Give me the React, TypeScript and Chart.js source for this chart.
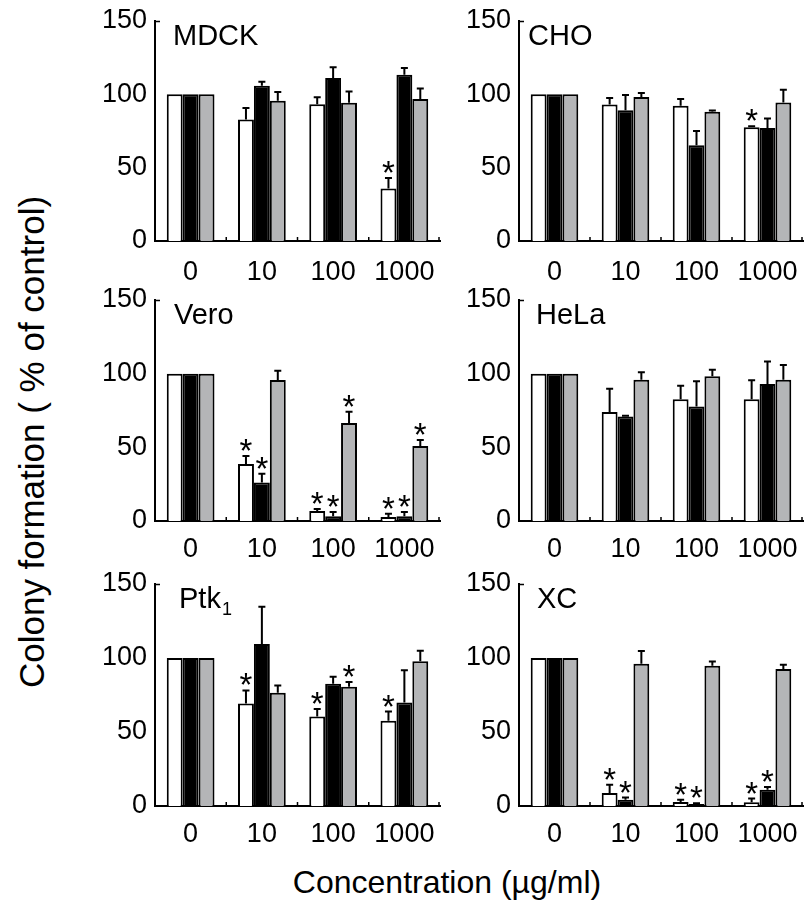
import React, { useEffect, useRef } from "react";
import { Chart, registerables } from "chart.js";

Chart.register(...registerables);

const FONT = "'Liberation Sans', Arial, Helvetica, sans-serif";

// ---- data ----
const categories = ["0", "10", "100", "1000"];
const yTickValues = [0, 50, 100, 150];
const seriesNames = ["white", "black", "gray"];
const seriesFill = ["#ffffff", "#000000", "#b4b5b7"];

// MDCK
const mdckWhite = [100, 82.8, 93.2, 35.8];
const mdckWhiteErr = [0, 7.9, 4.8, 7.1];
const mdckWhiteSig = [false, false, false, true];
const mdckBlack = [100, 105.9, 111.1, 113.4];
const mdckBlackErr = [0, 2.7, 7.3, 4.5];
const mdckBlackSig = [false, false, false, false];
const mdckGray = [100, 95.7, 94.3, 96.8];
const mdckGrayErr = [0, 5.9, 7.7, 7.1];
const mdckGraySig = [false, false, false, false];

// CHO
const choWhite = [100, 93.0, 92.3, 77.5];
const choWhiteErr = [0, 4.5, 4.5, 0.7];
const choWhiteSig = [false, false, false, true];
const choBlack = [100, 89.1, 65.2, 77.0];
const choBlackErr = [0, 10.4, 9.8, 6.6];
const choBlackSig = [false, false, false, false];
const choGray = [100, 98.2, 88.2, 94.5];
const choGrayErr = [0, 2.7, 0.7, 8.7];
const choGraySig = [false, false, false, false];

// Vero
const veroWhite = [100, 38.7, 6.8, 2.7];
const veroWhiteErr = [0, 5.4, 1.3, 2.3];
const veroWhiteSig = [false, true, true, true];
const veroBlack = [100, 26.2, 3.2, 3.2];
const veroBlackErr = [0, 5.9, 2.9, 2.9];
const veroBlackSig = [false, true, true, true];
const veroGray = [100, 95.7, 66.5, 50.9];
const veroGrayErr = [0, 6.3, 7.7, 4.0];
const veroGraySig = [false, false, true, true];

// HeLa
const helaWhite = [100, 73.9, 82.7, 82.7];
const helaWhiteErr = [0, 15.9, 9.1, 12.8];
const helaWhiteSig = [false, false, false, false];
const helaBlack = [100, 70.9, 77.7, 93.0];
const helaBlackErr = [0, 0.5, 17.1, 15.2];
const helaBlackSig = [false, false, false, false];
const helaGray = [100, 95.9, 98.2, 95.9];
const helaGrayErr = [0, 5.0, 4.5, 10.0];
const helaGraySig = [false, false, false, false];

// Ptk1
const ptkWhite = [100, 69.2, 60.5, 57.6];
const ptkWhiteErr = [0, 8.9, 5.1, 6.2];
const ptkWhiteSig = [false, true, true, true];
const ptkBlack = [100, 109.4, 82.6, 69.9];
const ptkBlackErr = [0, 25.2, 4.7, 21.8];
const ptkBlackSig = [false, false, false, false];
const ptkGray = [100, 76.6, 80.6, 97.8];
const ptkGrayErr = [0, 4.9, 3.1, 7.1];
const ptkGraySig = [false, false, true, false];

// XC
const xcWhite = [100, 8.8, 2.7, 2.5];
const xcWhiteErr = [0, 5.5, 1.6, 2.5];
const xcWhiteSig = [false, true, true, true];
const xcBlack = [100, 4.3, 1.4, 10.9];
const xcBlackErr = [0, 1.4, 0.4, 2.0];
const xcBlackSig = [false, true, true, true];
const xcGray = [100, 96.1, 94.8, 92.5];
const xcGrayErr = [0, 8.7, 2.9, 3.0];
const xcGraySig = [false, false, false, false];

const yAxisTitle = "Colony formation ( % of control)";
const xAxisTitle = "Concentration (\u00b5g/ml)";

type PanelProps = {
  name: string;
  sub?: string;
  values: number[][];
  errors: number[][];
  sig: boolean[][];
  left: number;
  top: number;
  width: number;
  height: number;
  yAxisWidth: number;
  padRight: number;
  titleDx: number;
  xPad: number;
};

function Panel(p: PanelProps) {
  const ref = useRef<HTMLCanvasElement | null>(null);
  useEffect(() => {
    const canvas = ref.current;
    if (!canvas) return;

    const extras = {
      id: "extras",
      afterDatasetsDraw(chart: any) {
        const ctx = chart.ctx;
        const ys = chart.scales.y;
        const xs = chart.scales.x;
        const area = chart.chartArea;
        ctx.save();
        // error bars
        ctx.strokeStyle = "#000";
        ctx.lineWidth = 2;
        p.values.forEach((vals, i) => {
          const meta = chart.getDatasetMeta(i);
          meta.data.forEach((bar: any, j: number) => {
            const e = p.errors[i][j];
            if (!e) return;
            const y0 = ys.getPixelForValue(vals[j]);
            const y1 = ys.getPixelForValue(vals[j] + e);
            ctx.beginPath();
            ctx.moveTo(bar.x, y0);
            ctx.lineTo(bar.x, y1);
            ctx.moveTo(bar.x - 3.5, y1);
            ctx.lineTo(bar.x + 3.5, y1);
            ctx.stroke();
          });
        });
        // asterisks
        ctx.fillStyle = "#000";
        ctx.font = `33px ${FONT}`;
        ctx.textAlign = "center";
        ctx.textBaseline = "alphabetic";
        p.values.forEach((vals, i) => {
          const meta = chart.getDatasetMeta(i);
          meta.data.forEach((bar: any, j: number) => {
            if (!p.sig[i][j]) return;
            const yTop = ys.getPixelForValue(vals[j] + p.errors[i][j]);
            ctx.fillText("*", bar.x, yTop + 6);
          });
        });
        // small inward ticks
        ctx.lineWidth = 1.5;
        ctx.beginPath();
        ctx.moveTo(area.left, ys.getPixelForValue(150) + 0.5);
        ctx.lineTo(area.left + 5, ys.getPixelForValue(150) + 0.5);
        const n = categories.length;
        for (let k = 0; k < n; k++) {
          let bx;
          if (k < n - 1) bx = (xs.getPixelForTick(k) + xs.getPixelForTick(k + 1)) / 2;
          else bx = area.right - 1;
          ctx.moveTo(bx, area.bottom);
          ctx.lineTo(bx, area.bottom - 4);
        }
        ctx.stroke();
        // panel title
        ctx.textAlign = "left";
        ctx.font = `29px ${FONT}`;
        const tx = area.left + p.titleDx;
        const ty = area.top + 24;
        ctx.fillText(p.name, tx, ty);
        if (p.sub) {
          const w = ctx.measureText(p.name).width;
          ctx.font = `18px ${FONT}`;
          ctx.fillText(p.sub, tx + w + 1, ty + 7);
        }
        ctx.restore();
      },
    };

    const chart = new Chart(canvas, {
      type: "bar",
      data: {
        labels: categories,
        datasets: p.values.map((vals, i) => ({
          label: seriesNames[i],
          data: vals,
          backgroundColor: seriesFill[i],
          borderColor: "#000000",
          borderWidth: 2,
          borderSkipped: "bottom",
        })),
      },
      options: {
        animation: false,
        responsive: false,
        maintainAspectRatio: false,
        devicePixelRatio: 1,
        events: [],
        layout: { padding: { top: 18, right: p.padRight, left: 0, bottom: 0 } },
        datasets: { bar: { categoryPercentage: 0.67, barPercentage: 1.0 } },
        plugins: {
          legend: { display: false },
          tooltip: { enabled: false },
          title: { display: false },
        },
        scales: {
          x: {
            grid: { display: false, drawTicks: false },
            border: { display: true, color: "#000", width: 2 },
            ticks: {
              color: "#000",
              font: { family: FONT, size: 27 },
              padding: p.xPad,
              maxRotation: 0,
              autoSkip: false,
            },
            afterFit: (s: any) => {
              s.height = 50;
              s.paddingLeft = 0;
              s.paddingRight = 0;
            },
          },
          y: {
            min: 0,
            max: 150,
            afterBuildTicks: (s: any) => {
              s.ticks = yTickValues.map((v) => ({ value: v }));
            },
            grid: { display: false, drawTicks: false },
            border: { display: true, color: "#000", width: 2 },
            ticks: {
              color: "#000",
              font: { family: FONT, size: 27 },
              padding: 8,
            },
            afterFit: (s: any) => {
              s.width = p.yAxisWidth;
              s.paddingTop = 0;
              s.paddingBottom = 0;
            },
          },
        },
      },
      plugins: [extras],
    } as any);
    return () => chart.destroy();
  }, []);
  return (
    <canvas
      ref={ref}
      width={p.width}
      height={p.height}
      style={{
        position: "absolute",
        left: p.left,
        top: p.top,
        width: p.width,
        height: p.height,
      }}
    />
  );
}

const LEFT = { left: 90, width: 360, yAxisWidth: 65, padRight: 10 };
const RIGHT = { left: 455, width: 351, yAxisWidth: 64, padRight: 3 };
const ROWS = [
  { top: 3, height: 288, xPad: 15 },
  { top: 282, height: 289, xPad: 12 },
  { top: 566, height: 290, xPad: 12 },
];

export default function App() {
  return (
    <div
      style={{
        position: "absolute",
        left: 0,
        top: 0,
        width: 806,
        height: 919,
        background: "#fff",
        overflow: "hidden",
      }}
    >
      <Panel
        name="MDCK"
        values={[mdckWhite, mdckBlack, mdckGray]}
        errors={[mdckWhiteErr, mdckBlackErr, mdckGrayErr]}
        sig={[mdckWhiteSig, mdckBlackSig, mdckGraySig]}
        {...LEFT}
        {...ROWS[0]}
        titleDx={18}
      />
      <Panel
        name="CHO"
        values={[choWhite, choBlack, choGray]}
        errors={[choWhiteErr, choBlackErr, choGrayErr]}
        sig={[choWhiteSig, choBlackSig, choGraySig]}
        {...RIGHT}
        {...ROWS[0]}
        titleDx={9}
      />
      <Panel
        name="Vero"
        values={[veroWhite, veroBlack, veroGray]}
        errors={[veroWhiteErr, veroBlackErr, veroGrayErr]}
        sig={[veroWhiteSig, veroBlackSig, veroGraySig]}
        {...LEFT}
        {...ROWS[1]}
        titleDx={19}
      />
      <Panel
        name="HeLa"
        values={[helaWhite, helaBlack, helaGray]}
        errors={[helaWhiteErr, helaBlackErr, helaGrayErr]}
        sig={[helaWhiteSig, helaBlackSig, helaGraySig]}
        {...RIGHT}
        {...ROWS[1]}
        titleDx={17}
      />
      <Panel
        name="Ptk"
        sub="1"
        values={[ptkWhite, ptkBlack, ptkGray]}
        errors={[ptkWhiteErr, ptkBlackErr, ptkGrayErr]}
        sig={[ptkWhiteSig, ptkBlackSig, ptkGraySig]}
        {...LEFT}
        {...ROWS[2]}
        titleDx={24}
      />
      <Panel
        name="XC"
        values={[xcWhite, xcBlack, xcGray]}
        errors={[xcWhiteErr, xcBlackErr, xcGrayErr]}
        sig={[xcWhiteSig, xcBlackSig, xcGraySig]}
        {...RIGHT}
        {...ROWS[2]}
        titleDx={18}
      />
      <div
        style={{
          position: "absolute",
          left: 31,
          top: 442,
          transform: "translate(-50%, -50%) rotate(-90deg)",
          whiteSpace: "nowrap",
          fontFamily: FONT,
          fontSize: 35,
          lineHeight: 1,
          color: "#000",
        }}
      >
        {yAxisTitle}
      </div>
      <div
        style={{
          position: "absolute",
          left: 447,
          top: 866,
          transform: "translateX(-50%)",
          whiteSpace: "nowrap",
          fontFamily: FONT,
          fontSize: 32,
          lineHeight: 1,
          color: "#000",
        }}
      >
        {xAxisTitle}
      </div>
    </div>
  );
}
